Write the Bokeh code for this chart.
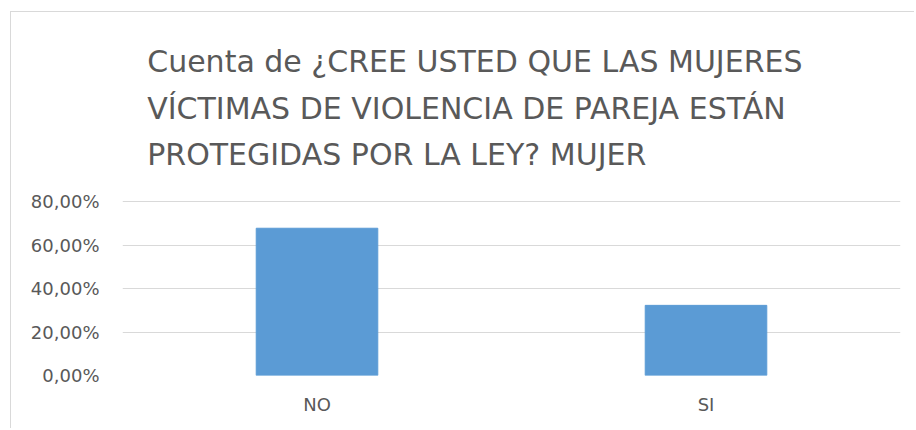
from bokeh.plotting import figure
from bokeh.models import FactorRange, Range1d, FixedTicker, Title
from bokeh.embed import file_html
from bokeh.resources import INLINE

# ---- data ----
categories = ["NO", "SI"]
values = [67.74, 32.26]
y_ticks = [0, 20, 40, 60, 80]
y_tick_labels = ["0,00%", "20,00%", "40,00%", "60,00%", "80,00%"]
title_lines = [
    "Cuenta de ¿CREE USTED QUE LAS MUJERES",
    "VÍCTIMAS DE VIOLENCIA DE PAREJA ESTÁN",
    "PROTEGIDAS POR LA LEY? MUJER",
]

FONT = "DejaVu Sans"
TXT = "#595959"
GRID = "#d9d9d9"
W, H = 904, 417

p = figure(
    x_range=FactorRange(factors=categories, range_padding=0),
    y_range=Range1d(0, 80.5),
    width=W, height=H,
    output_backend="svg", toolbar_location=None,
    min_border_left=111, min_border_right=15,
    min_border_top=188, min_border_bottom=54,
)
p.margin = (11, 0, 0, 10)
p.styles = {"border-left": "1px solid #d9d9d9", "border-top": "1px solid #d9d9d9"}
p.outline_line_color = None
p.background_fill_color = "white"
p.border_fill_color = "white"

p.vbar(x=categories, top=values, width=0.3125, color="#5b9bd5", line_color="#5b9bd5")

# y axis
p.yaxis.ticker = FixedTicker(ticks=y_ticks)
p.yaxis.major_label_overrides = {t: l for t, l in zip(y_ticks, y_tick_labels)}
p.yaxis.axis_line_color = None
p.yaxis.major_tick_line_color = None
p.yaxis.minor_tick_line_color = None
p.yaxis.major_tick_out = 0
p.yaxis.major_label_standoff = 23
p.yaxis.major_label_text_font = FONT
p.yaxis.major_label_text_font_size = "18px"
p.yaxis.major_label_text_color = TXT

# x axis
p.xaxis.axis_line_color = None
p.xaxis.major_tick_line_color = None
p.xaxis.minor_tick_line_color = None
p.xaxis.major_tick_out = 0
p.xaxis.major_label_standoff = 18
p.xaxis.major_label_text_font = FONT
p.xaxis.major_label_text_font_size = "18px"
p.xaxis.major_label_text_color = TXT

p.xgrid.grid_line_color = None
p.ygrid.grid_line_color = GRID
p.ygrid.grid_line_width = 1

p.title = Title(
    text="\n".join(title_lines), align="left", offset=24.7, standoff=56,
    text_font=FONT, text_font_size="30px", text_font_style="normal",
    text_color=TXT, text_line_height=1.34,
)

open("out.html", "w").write(file_html(p, INLINE))
